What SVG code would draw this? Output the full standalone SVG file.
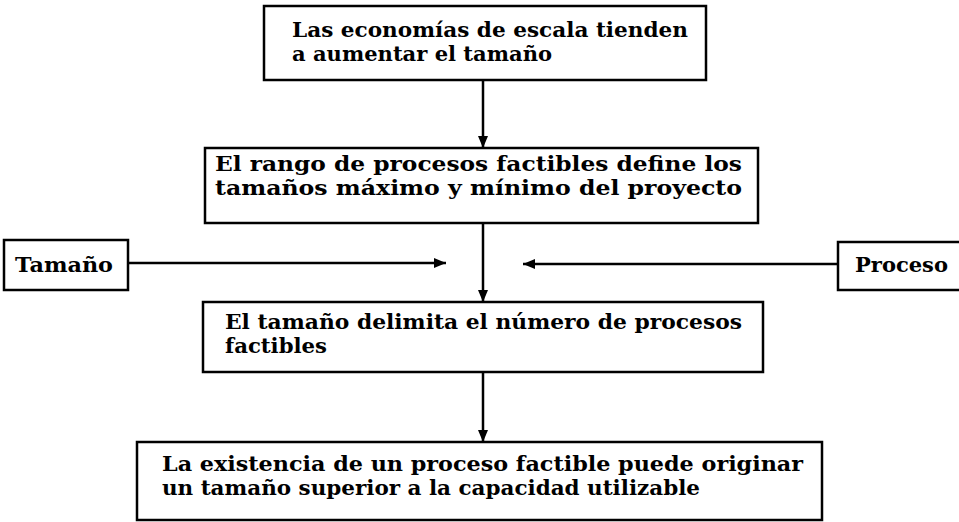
<svg xmlns="http://www.w3.org/2000/svg" width="959" height="522" viewBox="0 0 959 522">
<defs>
<marker id="ah" markerWidth="12" markerHeight="10" refX="12" refY="5" orient="auto" markerUnits="userSpaceOnUse">
<path d="M0,0 L12,5 L0,10 Z" fill="#000"/>
</marker>
<style>
.box{fill:#fff;stroke:#000;stroke-width:2.5}
.t{font-family:"DejaVu Serif","Liberation Serif",serif;font-weight:bold;font-size:20.5px;fill:#000}
.c{stroke:#000;stroke-width:2.5;fill:none}
</style>
</defs>
<rect width="959" height="522" fill="#fff"/>
<g id="n1">
<rect class="box" x="264" y="6" width="442" height="74"/>
<text class="t" x="292" y="37" textLength="396" lengthAdjust="spacingAndGlyphs">Las economías de escala tienden</text>
<text class="t" x="292" y="61" textLength="260" lengthAdjust="spacingAndGlyphs">a aumentar el tamaño</text>
</g>
<g id="n2">
<rect class="box" x="205" y="148" width="553" height="75"/>
<text class="t" x="215" y="171" textLength="527" lengthAdjust="spacingAndGlyphs">El rango de procesos factibles define los</text>
<text class="t" x="215" y="195" textLength="527" lengthAdjust="spacingAndGlyphs">tamaños máximo y mínimo del proyecto</text>
</g>
<g id="n3">
<rect class="box" x="4" y="240" width="124" height="50"/>
<text class="t" x="15" y="272" textLength="98" lengthAdjust="spacingAndGlyphs">Tamaño</text>
</g>
<g id="n4">
<rect class="box" x="838" y="242" width="125" height="48"/>
<text class="t" x="855" y="272" textLength="93" lengthAdjust="spacingAndGlyphs">Proceso</text>
</g>
<g id="n5">
<rect class="box" x="203" y="302" width="560" height="70"/>
<text class="t" x="225" y="329" textLength="517" lengthAdjust="spacingAndGlyphs">El tamaño delimita el número de procesos</text>
<text class="t" x="225" y="353" textLength="102" lengthAdjust="spacingAndGlyphs">factibles</text>
</g>
<g id="n6">
<rect class="box" x="137" y="442" width="685" height="78"/>
<text class="t" x="162" y="471" textLength="641" lengthAdjust="spacingAndGlyphs">La existencia de un proceso factible puede originar</text>
<text class="t" x="162" y="495" textLength="538" lengthAdjust="spacingAndGlyphs">un tamaño superior a la capacidad utilizable</text>
</g>
<g id="connectors">
<line class="c" x1="483" y1="80" x2="483" y2="148" marker-end="url(#ah)"/>
<line class="c" x1="483" y1="223" x2="483" y2="302" marker-end="url(#ah)"/>
<line class="c" x1="483" y1="372" x2="483" y2="442" marker-end="url(#ah)"/>
<line class="c" x1="128" y1="263" x2="446" y2="263" marker-end="url(#ah)"/>
<line class="c" x1="838" y1="264" x2="523" y2="264" marker-end="url(#ah)"/>
</g>
</svg>
